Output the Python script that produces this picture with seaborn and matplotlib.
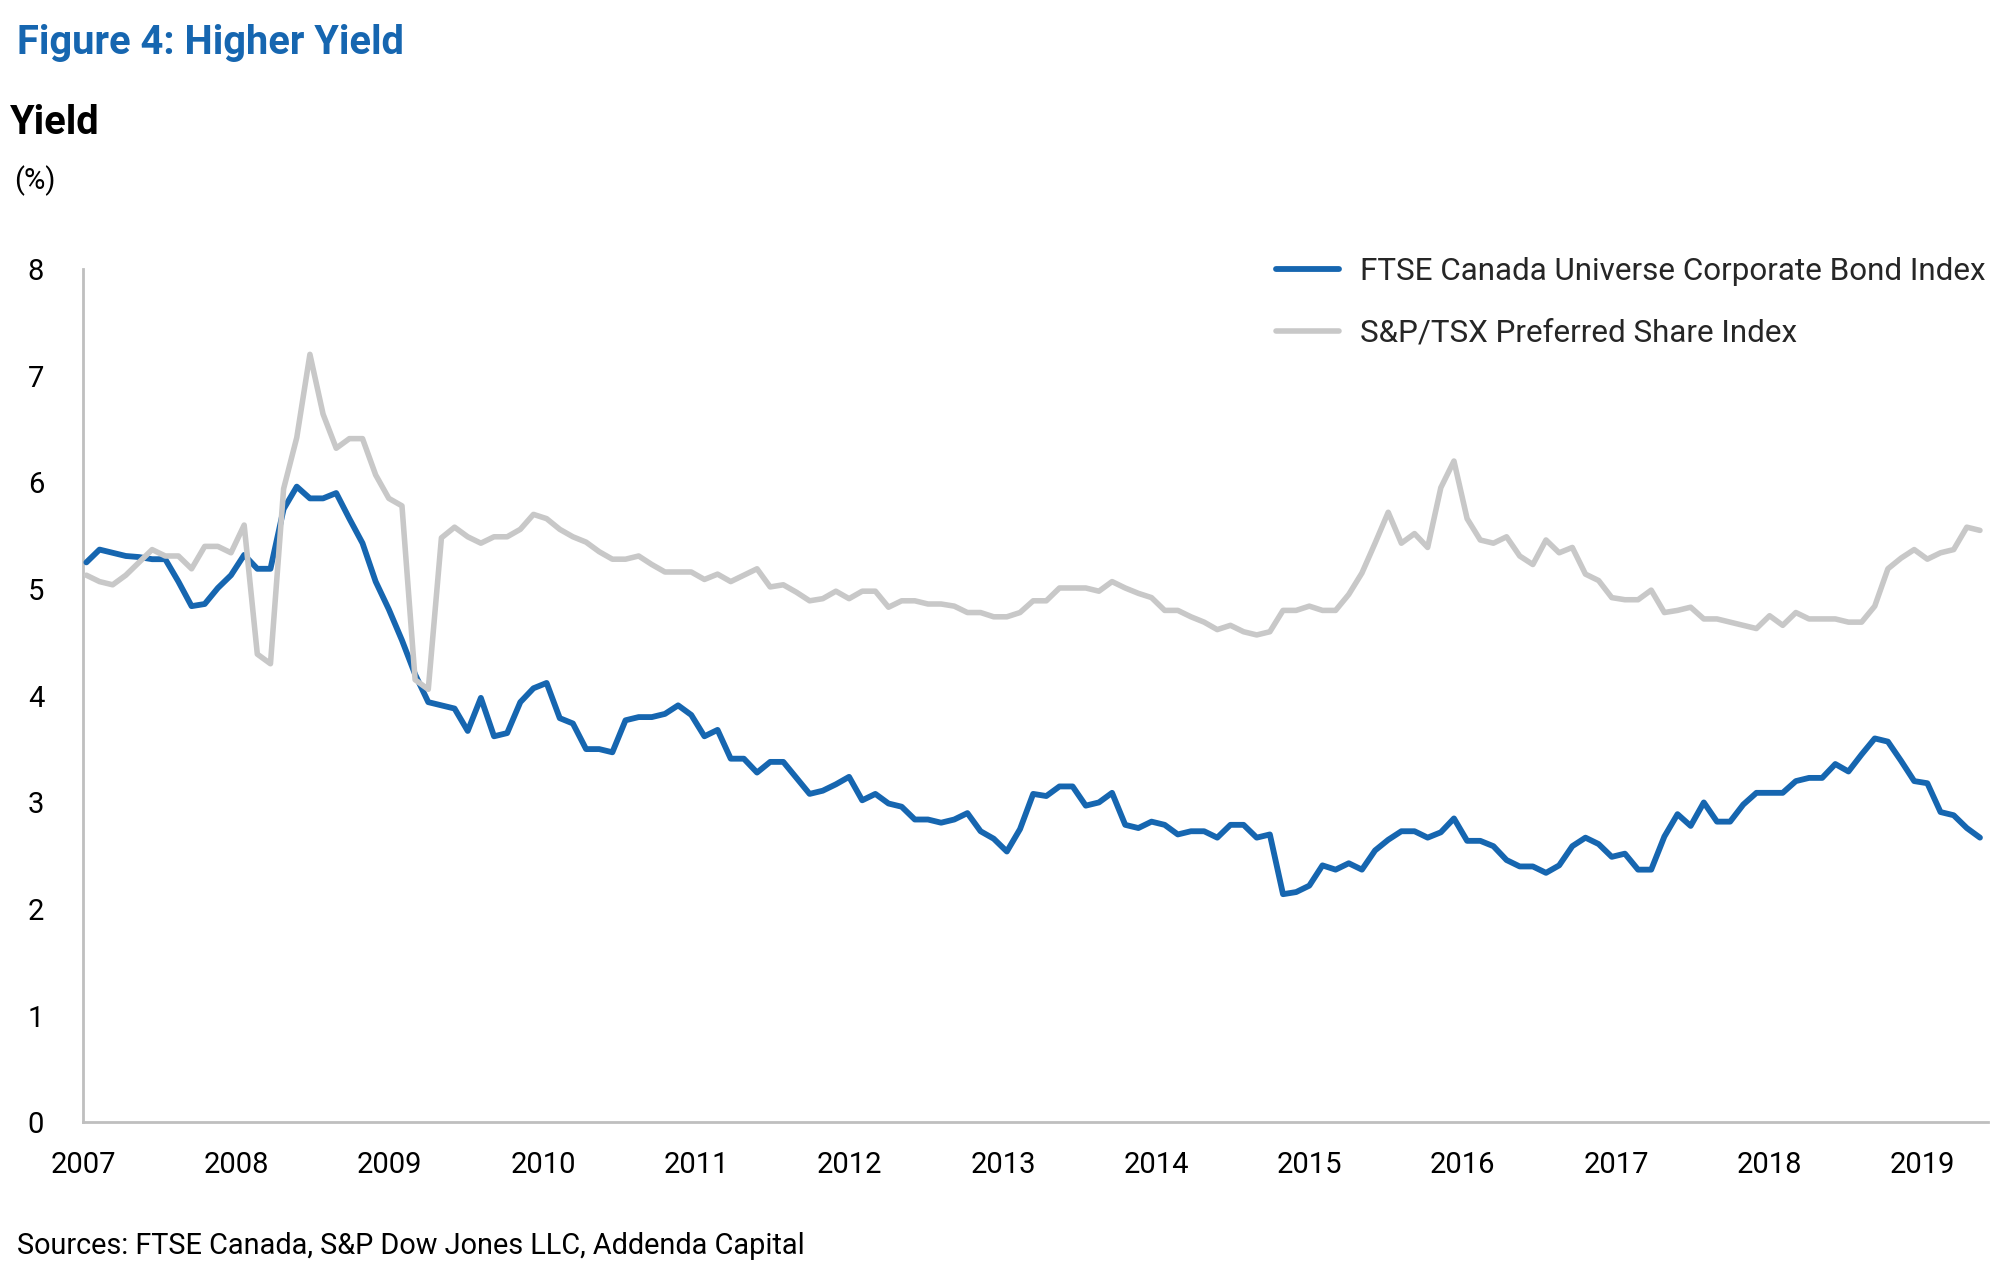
import numpy as np
import pandas as pd
import matplotlib
matplotlib.use("Agg")
import matplotlib.pyplot as plt
import matplotlib.dates as mdates
import seaborn as sns

# yields (%), one point per period from Jan 2007 to May 2019
corp_bond = [
    5.25, 5.37, 5.34, 5.31, 5.30, 5.28, 5.28, 5.07, 4.84, 4.86, 5.01, 5.13,
    5.32, 5.19, 5.19, 5.75, 5.96, 5.85, 5.85, 5.90, 5.66, 5.43, 5.07, 4.81,
    4.52, 4.20, 3.94, 3.91, 3.88, 3.67, 3.98, 3.62, 3.65, 3.94, 4.07, 4.12,
    3.79, 3.74, 3.50, 3.50, 3.47, 3.77, 3.80, 3.80, 3.83, 3.91, 3.82, 3.62,
    3.68, 3.41, 3.41, 3.28, 3.38, 3.38, 3.23, 3.08, 3.11, 3.17, 3.24, 3.02,
    3.08, 2.99, 2.96, 2.84, 2.84, 2.81, 2.84, 2.90, 2.73, 2.66, 2.54, 2.75,
    3.08, 3.06, 3.15, 3.15, 2.97, 3.00, 3.09, 2.79, 2.76, 2.82, 2.79, 2.70,
    2.73, 2.73, 2.67, 2.79, 2.79, 2.67, 2.70, 2.14, 2.16, 2.22, 2.41, 2.37,
    2.43, 2.37, 2.55, 2.65, 2.73, 2.73, 2.67, 2.72, 2.85, 2.64, 2.64, 2.59,
    2.46, 2.40, 2.40, 2.34, 2.41, 2.59, 2.67, 2.61, 2.49, 2.52, 2.37, 2.37,
    2.68, 2.89, 2.78, 3.00, 2.82, 2.82, 2.98, 3.09, 3.09, 3.09, 3.20, 3.23,
    3.23, 3.36, 3.29, 3.45, 3.60, 3.57, 3.39, 3.20, 3.18, 2.91, 2.88, 2.76,
    2.67,
]
pref_share = [
    5.13, 5.07, 5.04, 5.13, 5.25, 5.37, 5.31, 5.31, 5.19, 5.40, 5.40, 5.34,
    5.60, 4.39, 4.30, 5.94, 6.42, 7.20, 6.64, 6.32, 6.41, 6.41, 6.07, 5.85,
    5.78, 4.15, 4.06, 5.48, 5.58, 5.49, 5.43, 5.49, 5.49, 5.56, 5.70, 5.66,
    5.56, 5.49, 5.44, 5.35, 5.28, 5.28, 5.31, 5.23, 5.16, 5.16, 5.16, 5.09,
    5.14, 5.07, 5.13, 5.19, 5.02, 5.04, 4.97, 4.89, 4.91, 4.98, 4.91, 4.98,
    4.98, 4.83, 4.89, 4.89, 4.86, 4.86, 4.84, 4.78, 4.78, 4.74, 4.74, 4.78,
    4.89, 4.89, 5.01, 5.01, 5.01, 4.98, 5.07, 5.01, 4.96, 4.92, 4.80, 4.80,
    4.74, 4.69, 4.62, 4.66, 4.60, 4.57, 4.60, 4.80, 4.80, 4.84, 4.80, 4.80,
    4.95, 5.15, 5.43, 5.72, 5.43, 5.52, 5.39, 5.95, 6.20, 5.66, 5.46, 5.43,
    5.49, 5.31, 5.23, 5.46, 5.34, 5.39, 5.14, 5.08, 4.92, 4.90, 4.90, 4.99,
    4.78, 4.80, 4.83, 4.72, 4.72, 4.69, 4.66, 4.63, 4.75, 4.66, 4.78, 4.72,
    4.72, 4.72, 4.69, 4.69, 4.84, 5.19, 5.29, 5.37, 5.28, 5.34, 5.37, 5.58,
    5.55,
]
dates = pd.date_range("2007-01-09", "2019-05-18", periods=len(corp_bond))

label_bond = "FTSE Canada Universe Corporate Bond Index"
label_pref = "S&P/TSX Preferred Share Index"

BLUE = "#1666b0"
GRAY = "#c8c8c8"
AXIS = "#bfbfbf"

sns.set_style("white")
plt.rcParams['font.family'] = ['Roboto', 'DejaVu Sans']

fig = plt.figure(figsize=(20.07, 12.85), dpi=100)
ax = fig.add_axes([0.04136, 0.12646, 0.94914, 0.6642])

sns.lineplot(x=dates, y=corp_bond, ax=ax, color=BLUE, lw=4.2, label=label_bond,
             zorder=3, solid_joinstyle='round', solid_capstyle='round')
sns.lineplot(x=dates, y=pref_share, ax=ax, color=GRAY, lw=4.0, label=label_pref,
             zorder=4, solid_joinstyle='round', solid_capstyle='round')

ax.set_ylim(0, 8)
ax.set_yticks(range(0, 9))
ax.set_xlim(pd.Timestamp("2007-01-01"), pd.Timestamp("2019-06-06"))
ax.xaxis.set_major_locator(mdates.YearLocator())
ax.xaxis.set_major_formatter(mdates.DateFormatter("%Y"))
ax.set_xlabel("")
ax.set_ylabel("")
ax.grid(False)

for s in ["top", "right"]:
    ax.spines[s].set_visible(False)
for s in ["left", "bottom"]:
    ax.spines[s].set_color(AXIS)
    ax.spines[s].set_linewidth(2)

ax.tick_params(axis="x", direction="inout", length=13, width=1.5, color=AXIS,
               pad=14, labelsize=21, labelcolor="black")
ax.tick_params(axis="y", direction="out", length=7, width=1.5, color=AXIS,
               pad=21, labelsize=21, labelcolor="black")

ax.legend(loc="upper left", bbox_to_anchor=(0.6358, 0.800), bbox_transform=fig.transFigure,
          frameon=False, fontsize=22.6, handlelength=2.0, handletextpad=0.68,
          labelspacing=1.05, borderpad=0, borderaxespad=0)

fig.text(0.0085, 0.958, "Figure 4: Higher Yield", color=BLUE, fontsize=28.7,
         fontweight="bold", va="baseline", ha="left")
fig.text(0.005, 0.8957, "Yield", color="black", fontsize=28.7, fontweight="bold",
         va="baseline", ha="left")
fig.text(0.007, 0.8525, "(%)", color="black", fontsize=21, va="baseline", ha="left")
fig.text(0.0085, 0.024, "Sources: FTSE Canada, S&P Dow Jones LLC, Addenda Capital",
         color="black", fontsize=20.8, va="baseline", ha="left")

fig.savefig("out.png", dpi=100, facecolor="white")
